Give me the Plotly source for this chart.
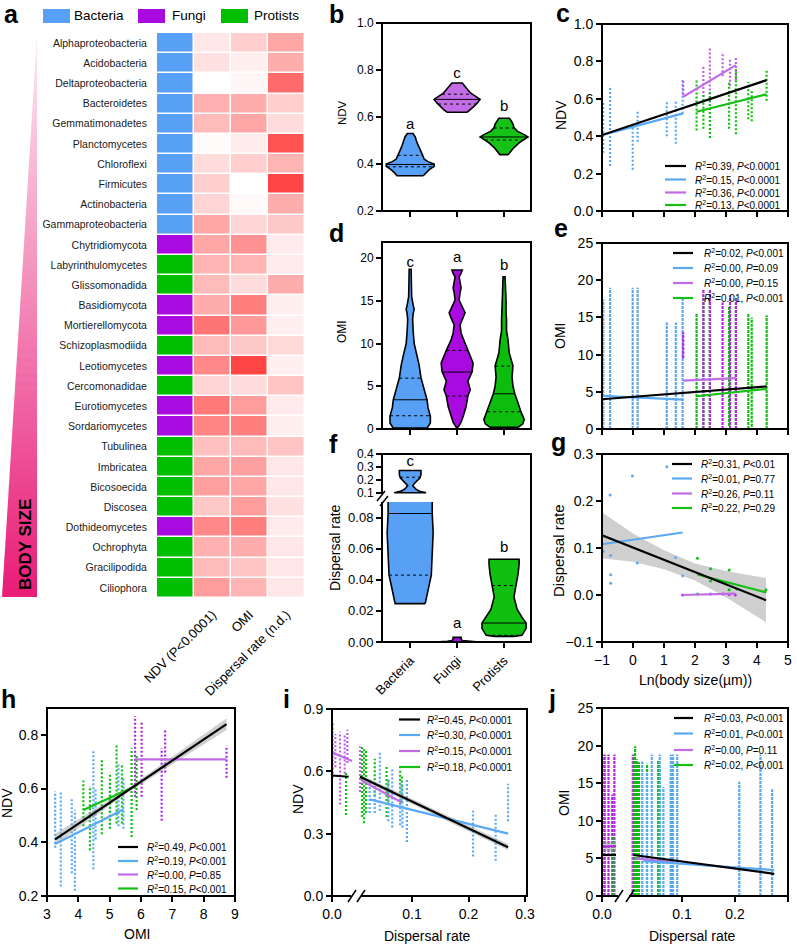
import numpy as np
import plotly.graph_objects as go

W, H = 797, 947
FONT = "Liberation Sans, Arial, Helvetica, sans-serif"

BLUE = "#57a0f6"
PURPLE = "#a80ae0"
GREEN = "#00bf00"
PT_BLUE = "#5aa9f7"
PT_PURPLE = "#b324e4"
PT_GREEN = "#0cc00c"
FIT_COLORS = ["#000000", "#5aa9f5", "#c06ce6", "#14c014"]

# ---------- panel a ----------
taxa = ["Alphaproteobacteria", "Acidobacteria", "Deltaproteobacteria", "Bacteroidetes",
        "Gemmatimonadetes", "Planctomycetes", "Chloroflexi", "Firmicutes", "Actinobacteria",
        "Gammaproteobacteria", "Chytridiomycota", "Labyrinthulomycetes", "Glissomonadida",
        "Basidiomycota", "Mortierellomycota", "Schizoplasmodiida", "Leotiomycetes",
        "Cercomonadidae", "Eurotiomycetes", "Sordariomycetes", "Tubulinea", "Imbricatea",
        "Bicosoecida", "Discosea", "Dothideomycetes", "Ochrophyta", "Gracilipodida", "Ciliophora"]
taxon_group = [0, 0, 0, 0, 0, 0, 0, 0, 0, 0, 1, 2, 2, 1, 1, 2, 1, 2, 1, 1, 2, 2, 2, 2, 1, 2, 2, 2]
group_names = ["Bacteria", "Fungi", "Protists"]
heat_cols = ["NDV (P<0.0001)", "OMI", "Dispersal rate (n.d.)"]
heat_ndv = [0.12, 0.15, 0.0, 0.40, 0.35, 0.02, 0.18, 0.25, 0.22, 0.45, 0.45, 0.38, 0.35, 0.42,
            0.70, 0.35, 0.60, 0.22, 0.68, 0.62, 0.32, 0.45, 0.48, 0.28, 0.60, 0.40, 0.35, 0.50]
heat_omi = [0.25, 0.08, 0.04, 0.42, 0.45, 0.10, 0.25, 0.0, 0.03, 0.22, 0.55, 0.38, 0.18, 0.65,
            0.52, 0.28, 0.95, 0.18, 0.50, 0.65, 0.35, 0.48, 0.45, 0.50, 0.65, 0.42, 0.30, 0.38]
heat_disp = [0.45, 0.42, 0.75, 0.25, 0.18, 0.88, 0.38, 0.95, 0.42, 0.28, 0.10, 0.10, 0.42, 0.08,
             0.08, 0.20, 0.08, 0.30, 0.10, 0.08, 0.30, 0.12, 0.12, 0.15, 0.10, 0.12, 0.12, 0.12]

# ---------- panel b: NDV violins (y levels, half widths) ----------
b_bac_y = [0.35, 0.36, 0.375, 0.39, 0.40, 0.41, 0.42, 0.44, 0.46, 0.48, 0.50, 0.515, 0.53]
b_bac_w = [0.28, 0.32, 0.40, 0.51, 0.51, 0.38, 0.30, 0.26, 0.21, 0.17, 0.13, 0.11, 0.06]
b_fun_y = [0.62, 0.63, 0.645, 0.66, 0.675, 0.69, 0.70, 0.715, 0.73, 0.745]
b_fun_w = [0.21, 0.28, 0.36, 0.43, 0.49, 0.38, 0.30, 0.23, 0.17, 0.11]
b_pro_y = [0.44, 0.45, 0.47, 0.49, 0.505, 0.515, 0.525, 0.54, 0.555, 0.57, 0.585, 0.595]
b_pro_w = [0.09, 0.13, 0.21, 0.32, 0.43, 0.51, 0.43, 0.28, 0.21, 0.19, 0.15, 0.11]
b_quart = [[0.388, 0.398, 0.437], [0.655, 0.675, 0.697], [0.502, 0.515, 0.553]]
b_letters = ["a", "c", "b"]
b_letter_y = [0.563, 0.78, 0.64]

# ---------- panel d: OMI violins ----------
d_bac_y = [0.1, 0.7, 1.5, 2.5, 3.4, 4.5, 6.0, 7.5, 8.5, 10, 11.5, 12.8, 13.5, 14, 14.5, 15.5, 17, 18.7]
d_bac_w = [0.36, 0.43, 0.43, 0.38, 0.36, 0.30, 0.23, 0.19, 0.15, 0.085, 0.064, 0.053, 0.064, 0.085,
           0.064, 0.032, 0.026, 0.021]
d_fun_y = [0.2, 0.8, 1.5, 2.6, 3.85, 4.6, 5.6, 6.7, 7.7, 9.2, 10.4, 11.2, 12.2, 13.0, 13.6, 14.3,
           15.1, 16.0, 16.5, 17.2, 17.8, 18.2, 18.6]
d_fun_w = [0.02, 0.085, 0.13, 0.19, 0.23, 0.28, 0.23, 0.32, 0.34, 0.23, 0.13, 0.085, 0.064, 0.13,
           0.17, 0.11, 0.043, 0.064, 0.085, 0.064, 0.043, 0.085, 0.11]
d_pro_y = [0.2, 0.6, 1.1, 2.0, 3.0, 4.1, 5.0, 6.1, 7.4, 8.9, 10.4, 11.5, 12.8, 13.5, 15, 16.5, 17.8]
d_pro_w = [0.30, 0.40, 0.43, 0.36, 0.30, 0.23, 0.19, 0.17, 0.19, 0.11, 0.085, 0.053, 0.053, 0.043,
           0.043, 0.032, 0.021]
d_quart = [[1.55, 3.42, 5.95], [3.85, 6.66, 9.2], [2.02, 4.12, 7.36]]
d_letters = ["c", "a", "b"]
d_letter_y = [19.4, 20.0, 19.0]

# ---------- panel f: dispersal violins (broken axis) ----------
f_bac_lo_y = [0.0247, 0.03, 0.036, 0.043, 0.057, 0.07, 0.0826, 0.09, 0.1]
f_bac_lo_w = [0.32, 0.36, 0.40, 0.45, 0.47, 0.49, 0.47, 0.47, 0.47]
f_bac_hi_y = [0.1, 0.11, 0.125, 0.14, 0.155, 0.17, 0.19, 0.215, 0.24, 0.272]
f_bac_hi_w = [0.34, 0.21, 0.13, 0.085, 0.053, 0.085, 0.15, 0.21, 0.23, 0.23]
f_fun_y = [0.0, 0.0005, 0.001, 0.002, 0.003]
f_fun_w = [0.47, 0.21, 0.11, 0.085, 0.085]
f_pro_y = [0.0036, 0.0043, 0.0086, 0.0122, 0.016, 0.021, 0.029, 0.0363, 0.044, 0.05, 0.0532]
f_pro_w = [0.21, 0.38, 0.47, 0.47, 0.38, 0.28, 0.21, 0.26, 0.30, 0.32, 0.32]
f_bac_quart = [0.043, 0.0826, 0.22]
f_pro_quart = [0.0043, 0.0122, 0.0363]
f_letters = ["c", "a", "b"]
f_letter_y = [0.333, 0.0113, 0.060]

# ---------- panels c, e, g: Ln(body size) ----------
bac_ln = [-0.96, -0.74, -0.01, 0.15, 1.09, 1.38, 1.6]
fun_ln = [1.62, 2.27, 2.48, 2.89, 3.13, 3.32]
pro_ln = [2.05, 2.27, 2.48, 3.1, 3.32, 3.72, 3.83, 4.31]

c_bac_lo = [0.31, 0.24, 0.22, 0.37, 0.40, 0.36, 0.52]
c_bac_hi = [0.59, 0.67, 0.47, 0.54, 0.59, 0.59, 0.70]
c_fun_lo = [0.62, 0.61, 0.58, 0.72, 0.67, 0.70]
c_fun_hi = [0.70, 0.78, 0.87, 0.85, 0.81, 0.82]
c_pro_lo = [0.43, 0.44, 0.39, 0.44, 0.41, 0.49, 0.48, 0.59]
c_pro_hi = [0.70, 0.62, 0.64, 0.69, 0.76, 0.69, 0.65, 0.76]
c_fit_x = [[-1, 4.31], [-1, 1.62], [1.62, 3.32], [2.05, 4.31]]
c_fit_y = [[0.406, 0.70], [0.405, 0.522], [0.611, 0.78], [0.531, 0.624]]
c_r2 = ["0.39", "0.15", "0.36", "0.13"]
c_p = ["<0.0001", "<0.0001", "<0.0001", "<0.0001"]

e_bac_lo = [0, 0, 0, 0, 0, 0, 0]
e_bac_hi = [17.4, 19.0, 19.0, 19.0, 14.3, 14.3, 17.5]
e_fun_lo = [9.5, 0, 0, 0, 0, 0]
e_fun_hi = [13.0, 18.8, 18.8, 17.0, 18.0, 17.5]
e_pro_lo = [0, 0, 0, 0.4, 0, 0, 0.3, 0]
e_pro_hi = [15.5, 17.8, 18.0, 16.5, 17.6, 15.5, 15.0, 15.3]
e_fit_x = [[-1, 4.31], [-1, 1.62], [1.62, 3.32], [2.05, 4.31]]
e_fit_y = [[4.0, 5.73], [4.45, 3.95], [6.5, 6.85], [4.4, 5.4]]
e_r2 = ["0.02", "0.00", "0.00", "0.01"]
e_p = ["<0.001", "=0.09", "=0.15", "<0.001"]

g_bac_x = [-0.96, -0.74, -0.72, -0.72, -0.72, -0.02, 0.14, 1.09, 1.37, 1.6]
g_bac_y = [0.093, 0.213, 0.084, 0.043, 0.025, 0.253, 0.068, 0.273, 0.080, 0.041]
g_fun_x = [1.6, 2.5, 2.9, 3.1, 3.3]
g_fun_y = [0.0, 0.002, 0.002, 0.001, 0.0]
g_pro_x = [2.08, 2.08, 2.5, 2.5, 3.1, 3.1, 3.35, 4.29]
g_pro_y = [0.078, 0.002, 0.056, 0.030, 0.053, 0.011, 0.013, 0.011]
g_fit_x = [[-1, 4.29], [-1, 1.6], [1.6, 3.3], [2.08, 4.3]]
g_fit_y = [[0.127, -0.011], [0.108, 0.133], [0.0, 0.003], [0.0435, 0.0056]]
g_band_x = [-1, 0, 1, 2, 3, 4.29]
g_band_hi = [0.176, 0.131, 0.095, 0.067, 0.051, 0.036]
g_band_lo = [0.078, 0.071, 0.055, 0.031, -0.005, -0.058]
g_r2 = ["0.31", "0.01", "0.26", "0.22"]
g_p = ["<0.01", "=0.77", "=0.11", "=0.29"]

# ---------- panel h: NDV vs OMI ----------
h_bac_x = [3.26, 3.44, 3.79, 3.89, 4.48, 4.55, 5.01, 5.28, 5.44]
h_bac_lo = [0.38, 0.235, 0.285, 0.22, 0.30, 0.41, 0.45, 0.46, 0.45]
h_bac_hi = [0.59, 0.59, 0.56, 0.52, 0.74, 0.60, 0.63, 0.69, 0.64]
h_pro_x = [4.16, 4.37, 4.75, 5.01, 5.22, 5.39, 5.7, 5.86]
h_pro_lo = [0.46, 0.37, 0.43, 0.45, 0.47, 0.47, 0.42, 0.52]
h_pro_hi = [0.63, 0.61, 0.71, 0.66, 0.76, 0.69, 0.75, 0.73]
h_fun_x = [5.81, 6.02, 6.66, 6.77, 8.73]
h_fun_lo = [0.57, 0.57, 0.48, 0.66, 0.64]
h_fun_hi = [0.87, 0.85, 0.75, 0.82, 0.76]
h_fit_x = [[3.26, 8.73], [3.26, 5.44], [5.81, 8.73], [4.16, 5.86]]
h_fit_y = [[0.411, 0.84], [0.394, 0.522], [0.709, 0.709], [0.52, 0.611]]
h_band_x = [3.26, 5.5, 8.73]
h_band_hi = [0.432, 0.595, 0.862]
h_band_lo = [0.390, 0.579, 0.818]
h_r2 = ["0.49", "0.19", "0.00", "0.15"]
h_p = ["<0.001", "<0.001", "=0.85", "<0.001"]

# ---------- panels i, j: dispersal rate ----------
fun_disp = [0.0001, 0.0005, 0.0012, 0.0019, 0.0023, 0.008]
pro_disp = [0.0021, 0.0115, 0.015, 0.0188, 0.034, 0.055, 0.058, 0.079, 0.082]
bac_disp = [0.025, 0.034, 0.043, 0.058, 0.065, 0.079, 0.083, 0.091, 0.208, 0.248, 0.27]

i_fun_lo = [0.57, 0.62, 0.44, 0.59, 0.64, 0.50]
i_fun_hi = [0.83, 0.78, 0.79, 0.78, 0.80, 0.72]
i_pro_lo = [0.39, 0.38, 0.35, 0.40, 0.48, 0.38, 0.45, 0.42, 0.45]
i_pro_hi = [0.60, 0.72, 0.71, 0.70, 0.66, 0.63, 0.56, 0.61, 0.58]
i_bac_lo = [0.40, 0.40, 0.41, 0.36, 0.33, 0.34, 0.33, 0.26, 0.19, 0.17, 0.36]
i_bac_hi = [0.56, 0.52, 0.69, 0.57, 0.61, 0.55, 0.53, 0.56, 0.41, 0.40, 0.54]
i_fit_x = [[0.008, 0.27], [0.025, 0.27], [0.0001, 0.003], [0.0115, 0.082]]
i_fit_y = [[0.574, 0.235], [0.465, 0.30], [0.69, 0.65], [0.555, 0.45]]
i_fit0_x = [0.0, 0.0025]
i_fit0_y = [0.58, 0.574]
i_band_x = [0.008, 0.27]
i_band_hi = [0.585, 0.25]
i_band_lo = [0.563, 0.22]
i_r2 = ["0.45", "0.30", "0.15", "0.18"]
i_p = ["<0.0001", "<0.0001", "<0.0001", "<0.0001"]

j_fun_lo = [0, 0, 0, 0, 0, 0]
j_fun_hi = [18.8, 18.8, 18.8, 13.5, 18.8, 18.8]
j_pro_lo = [0, 0, 0, 0, 0, 0, 0, 0, 0]
j_pro_hi = [8.0, 19.9, 18.2, 17.8, 17.6, 18.0, 17.2, 16.0, 15.3]
j_bac_lo = [0, 0, 0, 0, 0, 0, 0, 0, 0, 0, 0]
j_bac_hi = [17.9, 16.5, 18.8, 18.8, 14.5, 18.8, 18.8, 18.8, 15.2, 18.8, 14.2]
j_fit_x = [[0.008, 0.274], [0.027, 0.274], [0.0001, 0.0026], [0.0113, 0.084]]
j_fit_y = [[5.45, 2.95], [4.65, 3.45], [6.55, 6.65], [5.0, 4.5]]
j_fit0_x = [0.0, 0.0026]
j_fit0_y = [5.45, 5.45]
j_r2 = ["0.03", "0.01", "0.00", "0.02"]
j_p = ["<0.001", "<0.001", "=0.11", "<0.001"]


def fx(p):
    return p / W


def fy(p):
    return 1 - p / H


def xdom(a, b):
    return [fx(a), fx(b)]


def ydom(top, bot):
    return [fy(bot), fy(top)]


def axis(dom, rng, size=14, **kw):
    d = dict(domain=dom, range=rng, showgrid=False, zeroline=False, showline=False,
             ticks="outside", ticklen=5, tickwidth=1.5, tickcolor="black",
             tickfont=dict(size=size, color="black"), fixedrange=True, automargin=False)
    d.update(kw)
    return d


fig = go.Figure()
shapes, annots = [], []


def strips(xs, lo, hi, color, xa, ya, dash="2px,2px", width=2.2):
    X, Y = [], []
    for x, a, b in zip(xs, lo, hi):
        X += [x, x, None]
        Y += [a, b, None]
    fig.add_trace(go.Scatter(x=X, y=Y, mode="lines", line=dict(color=color, width=width, dash=dash),
                             xaxis=xa, yaxis=ya, showlegend=False, hoverinfo="skip"))


def fits(xs, ys, xa, ya, order=(1, 2, 3, 0)):
    for k in order:
        fig.add_trace(go.Scatter(x=xs[k], y=ys[k], mode="lines",
                                 line=dict(color=FIT_COLORS[k], width=2.2),
                                 xaxis=xa, yaxis=ya, showlegend=False, hoverinfo="skip"))


def band(xs, hi, lo, xa, ya, color="rgba(150,150,150,0.45)"):
    fig.add_trace(go.Scatter(x=list(xs) + list(xs[::-1]), y=list(hi) + list(lo[::-1]),
                             mode="lines", fill="toself", fillcolor=color, line=dict(width=0),
                             xaxis=xa, yaxis=ya, showlegend=False, hoverinfo="skip"))


def violin(c, ys, ws, color, xa, ya):
    X = [c + w for w in ws] + [c - w for w in ws[::-1]]
    Y = list(ys) + list(ys[::-1])
    fig.add_trace(go.Scatter(x=X + [X[0]], y=Y + [Y[0]], mode="lines", fill="toself",
                             fillcolor=color, line=dict(color="black", width=1.6),
                             xaxis=xa, yaxis=ya, showlegend=False, hoverinfo="skip"))


def quart(c, ys, ws, q, dash, xa, ya):
    h = float(np.interp(q, ys, ws))
    fig.add_trace(go.Scatter(x=[c - h, c + h], y=[q, q], mode="lines",
                             line=dict(color="black", width=1, dash=dash),
                             xaxis=xa, yaxis=ya, showlegend=False, hoverinfo="skip"))


def legend_block(x0, x1, xt, rows, r2, pv, size=10):
    for yy, col, r, p in zip(rows, FIT_COLORS, r2, pv):
        shapes.append(dict(type="line", xref="paper", yref="paper", x0=fx(x0), x1=fx(x1),
                           y0=fy(yy), y1=fy(yy), line=dict(color=col, width=2.2)))
        annots.append(dict(text="<i>R</i><sup>2</sup>=%s, <i>P</i>%s" % (r, p.replace("<", "&lt;")),
                           x=fx(xt), y=fy(yy), xref="paper", yref="paper", xanchor="left",
                           yanchor="middle", showarrow=False, font=dict(size=size, color="black")))


def text(t, x, y, size=14, angle=0, bold=False, xanchor="center"):
    annots.append(dict(text="<b>%s</b>" % t if bold else t, x=fx(x), y=fy(y), xref="paper",
                       yref="paper", xanchor=xanchor, yanchor="middle", showarrow=False,
                       textangle=angle, font=dict(size=size, color="black")))


# ---------- a: heatmap ----------
grp_z = [[g] for g in taxon_group]
fig.add_trace(go.Heatmap(z=grp_z, x=[0], y=taxa, zmin=0, zmax=2, showscale=False,
                         colorscale=[[0, BLUE], [0.5, PURPLE], [1, GREEN]],
                         xgap=1.5, ygap=1.5, xaxis="x", yaxis="y", hoverinfo="skip"))
heat_z = [[a, b, c] for a, b, c in zip(heat_ndv, heat_omi, heat_disp)]
fig.add_trace(go.Heatmap(z=heat_z, x=[1, 2, 3], y=taxa, zmin=0, zmax=1, showscale=False,
                         colorscale=[[0, "#ffffff"], [1, "#ff3a3a"]],
                         xgap=1.5, ygap=1.5, xaxis="x", yaxis="y", hoverinfo="skip"))

# body-size wedge drawn as stacked slices
n_sl = 70
top, bot = 35.0, 597.0
c0, c1 = np.array([253, 234, 243]), np.array([233, 28, 120])
for k in range(n_sl):
    t = top + (bot - top) * k / n_sl
    b = min(top + (bot - top) * (k + 1) / n_sl + 0.6, bot)
    xl_t = 37 - 35 * (t - top) / (bot - top)
    xl_b = 37 - 35 * (b - top) / (bot - top)
    col = c0 + (c1 - c0) * (k + 0.5) / n_sl
    path = "M %f,%f L %f,%f L %f,%f L %f,%f Z" % (fx(xl_t), fy(t), fx(37), fy(t), fx(37), fy(b),
                                                   fx(xl_b), fy(b))
    shapes.append(dict(type="path", path=path, xref="paper", yref="paper",
                       fillcolor="rgb(%d,%d,%d)" % tuple(col.astype(int)), line=dict(width=0),
                       layer="below"))
text("BODY SIZE", 25, 545, size=17, angle=-90, bold=True)

for name, col, x0, xt in zip(group_names, [BLUE, PURPLE, GREEN], [43, 138, 221], [72, 170, 252]):
    shapes.append(dict(type="rect", xref="paper", yref="paper", x0=fx(x0), x1=fx(x0 + 27),
                       y0=fy(23), y1=fy(9), fillcolor=col, line=dict(width=0)))
    text(name, xt, 16, size=13.5, xanchor="left")

# ---------- b ----------
for c, ys, ws, col in zip([0, 1, 2], [b_bac_y, b_fun_y, b_pro_y], [b_bac_w, b_fun_w, b_pro_w],
                          [BLUE, "#c36ce8", "#17c217"]):
    violin(c, ys, ws, col, "x2", "y2")
for c, ys, ws, qs in zip([0, 1, 2], [b_bac_y, b_fun_y, b_pro_y], [b_bac_w, b_fun_w, b_pro_w], b_quart):
    quart(c, ys, ws, qs[0], "dot", "x2", "y2")
    quart(c, ys, ws, qs[1], "solid", "x2", "y2")
    quart(c, ys, ws, qs[2], "dot", "x2", "y2")
fig.add_trace(go.Scatter(x=[0, 1, 2], y=b_letter_y, text=b_letters, mode="text",
                         textfont=dict(size=15, color="black"), xaxis="x2", yaxis="y2",
                         showlegend=False, hoverinfo="skip"))

# ---------- d ----------
for c, ys, ws, col in zip([0, 1, 2], [d_bac_y, d_fun_y, d_pro_y], [d_bac_w, d_fun_w, d_pro_w],
                          [BLUE, PURPLE, "#0dbd0d"]):
    violin(c, ys, ws, col, "x4", "y4")
for c, ys, ws, qs in zip([0, 1, 2], [d_bac_y, d_fun_y, d_pro_y], [d_bac_w, d_fun_w, d_pro_w], d_quart):
    quart(c, ys, ws, qs[0], "dot", "x4", "y4")
    quart(c, ys, ws, qs[1], "solid", "x4", "y4")
    quart(c, ys, ws, qs[2], "dot", "x4", "y4")
fig.add_trace(go.Scatter(x=[0, 1, 2], y=d_letter_y, text=d_letters, mode="text",
                         textfont=dict(size=15, color="black"), xaxis="x4", yaxis="y4",
                         showlegend=False, hoverinfo="skip"))

# ---------- f ----------
violin(0, f_bac_lo_y, f_bac_lo_w, BLUE, "x6", "y6")
violin(0, f_bac_hi_y, f_bac_hi_w, BLUE, "x6", "y7")
violin(1, f_fun_y, f_fun_w, PURPLE, "x6", "y6")
violin(2, f_pro_y, f_pro_w, "#10c010", "x6", "y6")
quart(0, f_bac_lo_y, f_bac_lo_w, f_bac_quart[0], "dot", "x6", "y6")
quart(0, f_bac_lo_y, f_bac_lo_w, f_bac_quart[1], "solid", "x6", "y6")
quart(0, f_bac_hi_y, f_bac_hi_w, f_bac_quart[2], "dot", "x6", "y7")
quart(2, f_pro_y, f_pro_w, f_pro_quart[0], "dot", "x6", "y6")
quart(2, f_pro_y, f_pro_w, f_pro_quart[1], "solid", "x6", "y6")
quart(2, f_pro_y, f_pro_w, f_pro_quart[2], "dot", "x6", "y6")
fig.add_trace(go.Scatter(x=[0], y=f_letter_y[:1], text=f_letters[:1], mode="text",
                         textfont=dict(size=15, color="black"), xaxis="x6", yaxis="y7",
                         showlegend=False, hoverinfo="skip"))
fig.add_trace(go.Scatter(x=[1, 2], y=f_letter_y[1:], text=f_letters[1:], mode="text",
                         textfont=dict(size=15, color="black"), xaxis="x6", yaxis="y6",
                         showlegend=False, hoverinfo="skip"))

# ---------- c ----------
strips(bac_ln, c_bac_lo, c_bac_hi, PT_BLUE, "x3", "y3")
strips(fun_ln, c_fun_lo, c_fun_hi, "#c060e6", "x3", "y3")
strips(pro_ln, c_pro_lo, c_pro_hi, PT_GREEN, "x3", "y3")
fits(c_fit_x, c_fit_y, "x3", "y3")
legend_block(665, 686, 693, [166, 179.5, 192.5, 205], c_r2, c_p)

# ---------- e ----------
strips(bac_ln, e_bac_lo, e_bac_hi, PT_BLUE, "x5", "y5", dash="3px,1px")
strips(pro_ln, e_pro_lo, e_pro_hi, PT_GREEN, "x5", "y5", dash="3px,1px")
strips(fun_ln, e_fun_lo, e_fun_hi, PT_PURPLE, "x5", "y5", dash="3px,1px")
fits(e_fit_x, e_fit_y, "x5", "y5")
legend_block(673, 693, 702, [253, 268, 283, 298], e_r2, e_p)

# ---------- g ----------
band(g_band_x, g_band_hi, g_band_lo, "x7", "y8", color="rgba(160,160,160,0.5)")
for xs, ys, col in [(g_bac_x, g_bac_y, PT_BLUE), (g_fun_x, g_fun_y, PT_PURPLE), (g_pro_x, g_pro_y, PT_GREEN)]:
    fig.add_trace(go.Scatter(x=xs, y=ys, mode="markers", marker=dict(color=col, size=3),
                             xaxis="x7", yaxis="y8", showlegend=False, hoverinfo="skip"))
fits(g_fit_x, g_fit_y, "x7", "y8")
legend_block(672, 692, 699, [464, 478.5, 493.5, 508], g_r2, g_p)

# ---------- h ----------
strips(h_bac_x, h_bac_lo, h_bac_hi, PT_BLUE, "x8", "y9")
strips(h_pro_x, h_pro_lo, h_pro_hi, PT_GREEN, "x8", "y9")
strips(h_fun_x, h_fun_lo, h_fun_hi, PT_PURPLE, "x8", "y9")
band(h_band_x, h_band_hi, h_band_lo, "x8", "y9")
fits(h_fit_x, h_fit_y, "x8", "y9")
legend_block(118, 138, 145, [847, 861, 874.5, 888.5], h_r2, h_p)

# ---------- i (two x segments) ----------
for xa in ["x9", "x10"]:
    strips(fun_disp, i_fun_lo, i_fun_hi, "#c060e6", xa, "y10")
    strips(pro_disp, i_pro_lo, i_pro_hi, PT_GREEN, xa, "y10")
    strips(bac_disp, i_bac_lo, i_bac_hi, PT_BLUE, xa, "y10")
band(i_band_x, i_band_hi, i_band_lo, "x10", "y10")
fits(i_fit_x[:2] + i_fit_x[3:], i_fit_y[:2] + i_fit_y[3:], "x10", "y10", order=(1, 2, 0))
fig.add_trace(go.Scatter(x=i_fit_x[2], y=i_fit_y[2], mode="lines", line=dict(color=FIT_COLORS[2], width=2.2),
                         xaxis="x9", yaxis="y10", showlegend=False, hoverinfo="skip"))
fig.add_trace(go.Scatter(x=i_fit0_x, y=i_fit0_y, mode="lines", line=dict(color="black", width=2.2),
                         xaxis="x9", yaxis="y10", showlegend=False, hoverinfo="skip"))
legend_block(399, 420, 425, [719.5, 735, 751, 767], i_r2, i_p)

# ---------- j (two x segments) ----------
for xa in ["x11", "x12"]:
    strips(fun_disp, j_fun_lo, j_fun_hi, PT_PURPLE, xa, "y11", dash="3px,1px")
    strips(pro_disp, j_pro_lo, j_pro_hi, PT_GREEN, xa, "y11", dash="3px,1px")
    strips(bac_disp, j_bac_lo, j_bac_hi, PT_BLUE, xa, "y11", dash="3px,1px")
fits(j_fit_x[:2] + j_fit_x[3:], j_fit_y[:2] + j_fit_y[3:], "x12", "y11", order=(2, 1, 0))
band(j_fit_x[2], [v + 0.6 for v in j_fit_y[2]], [v - 0.6 for v in j_fit_y[2]], "x11", "y11")
fig.add_trace(go.Scatter(x=j_fit_x[2], y=j_fit_y[2], mode="lines", line=dict(color=PT_PURPLE, width=2.2),
                         xaxis="x11", yaxis="y11", showlegend=False, hoverinfo="skip"))
fig.add_trace(go.Scatter(x=j_fit0_x, y=j_fit0_y, mode="lines", line=dict(color="black", width=2.2),
                         xaxis="x11", yaxis="y11", showlegend=False, hoverinfo="skip"))
legend_block(674, 693, 702, [718, 733.5, 750, 765], j_r2, j_p)

# ---------- frames and axis breaks ----------
for x0, y0, x1, y1 in [(382, 23, 531, 211), (602, 24, 788, 211), (382, 242, 531, 429),
                       (602, 243, 788, 429), (382, 454, 531, 642), (602, 454, 788, 642),
                       (47, 708, 235, 896), (332, 709, 527, 896), (602, 708, 788, 896)]:
    shapes.append(dict(type="rect", xref="paper", yref="paper", x0=fx(x0), x1=fx(x1),
                       y0=fy(y1), y1=fy(y0), line=dict(color="black", width=2)))
for x0, y0, x1, y1, segs in [(378, 494, 387, 502, [(377, 501, 385, 491), (380, 506, 388, 496)]),
                             (351, 892, 361, 900, [(348, 902, 356, 890), (357, 902, 365, 890)]),
                             (618, 892, 629, 900, [(615, 902, 623, 890), (626, 902, 634, 890)])]:
    shapes.append(dict(type="rect", xref="paper", yref="paper", x0=fx(x0), x1=fx(x1),
                       y0=fy(y1), y1=fy(y0), fillcolor="white", line=dict(width=0)))
    for a, b, c, d in segs:
        shapes.append(dict(type="line", xref="paper", yref="paper", x0=fx(a), y0=fy(b),
                           x1=fx(c), y1=fy(d), line=dict(color="black", width=1.5)))

# ---------- titles and panel letters ----------
for t, x, y, s in [("NDV", 342, 113, 11.5), ("OMI", 342, 332, 12), ("Dispersal rate", 335, 548, 14),
                   ("NDV", 561, 115, 14), ("OMI", 560, 336, 14), ("Dispersal rate", 558, 551, 15),
                   ("NDV", 7, 803, 14), ("NDV", 298, 799, 14), ("OMI", 564, 803, 14)]:
    text(t, x, y, size=s, angle=-90)
for t, x, y in [("Ln(body size(µm))", 695, 680), ("OMI", 137, 934), ("Dispersal rate", 427, 936),
                ("Dispersal rate", 692, 936)]:
    text(t, x, y, size=14)
for t, x, base in [("a", 2, 23), ("b", 327, 23), ("c", 554, 22), ("d", 327, 242), ("e", 552, 237),
                   ("f", 327, 453), ("g", 549, 451), ("h", -1, 708), ("i", 281, 708), ("j", 546, 708)]:
    text(t, x, base - 9, size=25, bold=True, xanchor="left")

cat_ticks = dict(tickvals=[0, 1, 2], showticklabels=False)
fig.update_layout(
    width=W, height=H, margin=dict(l=0, r=0, t=0, b=0), paper_bgcolor="white", plot_bgcolor="white",
    showlegend=False, font=dict(family=FONT, color="black"),
    xaxis=axis(xdom(157, 305), [-0.5, 3.5], size=13, tickvals=[1, 2, 3],
               ticktext=[c.replace("<", "&lt;") for c in heat_cols], tickangle=-45,
               ticklen=3, tickcolor="rgba(0,0,0,0)"),
    yaxis=axis(ydom(33, 598), None, size=10.5, type="category", autorange="reversed",
               ticklen=7, tickcolor="rgba(0,0,0,0)", tickfont=dict(size=10.5, color="#1a1a1a")),
    xaxis2=axis(xdom(382, 531), [-0.6, 2.574], anchor="y2", **cat_ticks),
    yaxis2=axis(ydom(23, 211), [0.2, 1.0], size=12, anchor="x2", tickvals=[0.2, 0.4, 0.6, 0.8, 1.0],
                tickformat=".1f"),
    xaxis3=axis(xdom(602, 788), [-1, 5], anchor="y3", tickvals=[-1, 0, 1, 2, 3, 4, 5], showticklabels=False),
    yaxis3=axis(ydom(24, 211), [0, 1.0], anchor="x3", tickvals=[0, 0.2, 0.4, 0.6, 0.8, 1.0], tickformat=".1f"),
    xaxis4=axis(xdom(382, 531), [-0.6, 2.574], anchor="y4", **cat_ticks),
    yaxis4=axis(ydom(241, 429), [0, 22], size=12, anchor="x4", tickvals=[0, 5, 10, 15, 20]),
    xaxis5=axis(xdom(602, 788), [-1, 5], anchor="y5", tickvals=[-1, 0, 1, 2, 3, 4, 5], showticklabels=False),
    yaxis5=axis(ydom(243, 429), [0, 25], anchor="x5", tickvals=[0, 5, 10, 15, 20, 25]),
    xaxis6=axis(xdom(382, 531), [-0.6, 2.574], size=13, anchor="y6", tickvals=[0, 1, 2],
                ticktext=group_names, tickangle=-45),
    yaxis6=axis(ydom(502, 642), [0, 0.09], size=13, anchor="x6", tickvals=[0, 0.02, 0.04, 0.06, 0.08],
                tickformat=".2f"),
    yaxis7=axis(ydom(454, 497), [0.0666, 0.4], size=12, anchor="x6", tickvals=[0.1, 0.2, 0.3, 0.4],
                tickformat=".1f"),
    xaxis7=axis(xdom(602, 788), [-1, 5], anchor="y8", tickvals=[-1, 0, 1, 2, 3, 4, 5]),
    yaxis8=axis(ydom(454, 642), [-0.1, 0.3], anchor="x7", tickvals=[-0.1, 0, 0.1, 0.2, 0.3], tickformat=".1f"),
    xaxis8=axis(xdom(47, 235), [3, 9], anchor="y9", tickvals=[3, 4, 5, 6, 7, 8, 9]),
    yaxis9=axis(ydom(708, 896), [0.2, 0.9], anchor="x8", tickvals=[0.2, 0.4, 0.6, 0.8], tickformat=".1f"),
    xaxis9=axis(xdom(332, 352), [0, 0.003], anchor="y10", tickvals=[0], ticktext=["0.0"]),
    xaxis10=axis(xdom(358, 527), [0.0044, 0.3035], anchor="y10", tickvals=[0.1, 0.2, 0.3], tickformat=".1f"),
    yaxis10=axis(ydom(709, 896), [0, 0.9], anchor="x9", tickvals=[0, 0.3, 0.6, 0.9], tickformat=".1f"),
    xaxis11=axis(xdom(602, 616), [0, 0.0026], anchor="y11", tickvals=[0], ticktext=["0.0"]),
    xaxis12=axis(xdom(631, 788), [0.0038, 0.3], anchor="y11", tickvals=[0.1, 0.2, 0.3], tickformat=".1f"),
    yaxis11=axis(ydom(708, 896), [0, 25], anchor="x11", tickvals=[0, 5, 10, 15, 20, 25]),
    shapes=shapes, annotations=annots,
)

fig.write_html("out.html", config={"displayModeBar": False},
               post_script="document.body.style.margin='0px';")
